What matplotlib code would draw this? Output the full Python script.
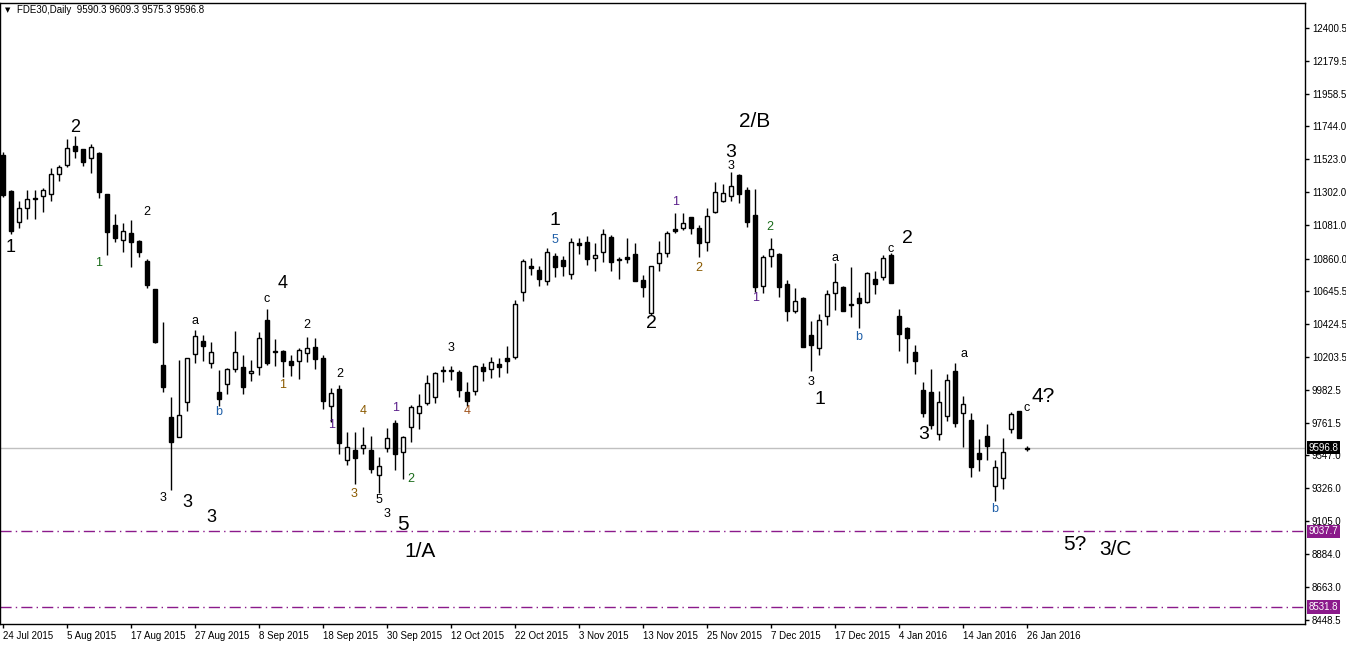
"""FDE30 daily candles with Elliott wave counts, MT4 style."""
import matplotlib
matplotlib.use("Agg")
import matplotlib.pyplot as plt
from matplotlib import transforms

plt.rcParams["font.family"] = ["Liberation Sans", "DejaVu Sans"]

# --- data -------------------------------------------------------------------
date_labels = [
    "24 Jul 2015", "5 Aug 2015", "17 Aug 2015", "27 Aug 2015", "8 Sep 2015",
    "18 Sep 2015", "30 Sep 2015", "12 Oct 2015", "22 Oct 2015", "3 Nov 2015",
    "13 Nov 2015", "25 Nov 2015", "7 Dec 2015", "17 Dec 2015", "4 Jan 2016",
    "14 Jan 2016", "26 Jan 2016",
]
bars_per_label = 8

opens = [
    11552, 11312, 11104, 11198, 11265, 11278, 11292, 11425, 11485, 11612,
    11592, 11532, 11565, 11292, 11084, 10984, 11031, 10978, 10844, 10657,
    10149, 9802, 9668, 9902, 10223, 10310, 10163, 9969, 10022, 10123,
    10136, 10096, 10136, 10450, 10243, 10243, 10176, 10176, 10230, 10270,
    10196, 9876, 9989, 9515, 9582, 9595, 9582, 9415, 9595, 9762,
    9568, 9735, 9829, 9896, 9936, 10116, 10110, 10103, 9969, 9976,
    10136, 10123, 10156, 10196, 10203, 10637, 10811, 10784, 10711, 10878,
    10851, 10757, 10964, 10971, 10864, 10904, 11004, 10857, 10871, 10891,
    10717, 10497, 10831, 10898, 11058, 11065, 11138, 11065, 10971, 11171,
    11245, 11278, 11419, 11318, 11151, 10677, 10878, 10891, 10690, 10510,
    10597, 10350, 10263, 10477, 10630, 10670, 10557, 10597, 10570, 10724,
    10737, 10884, 10477, 10397, 10236, 9982, 9969, 9689, 9809, 10109,
    9829, 9782, 9562, 9675, 9341, 9395, 9722, 9842, 9590.3,
]
highs = [
    11572, 11318, 11245, 11318, 11318, 11332, 11465, 11485, 11659, 11679,
    11592, 11626, 11572, 11292, 11158, 11098, 11118, 10984, 10857, 10657,
    10437, 9936, 10183, 10196, 10383, 10350, 10303, 10116, 10129, 10377,
    10216, 10183, 10370, 10523, 10323, 10250, 10216, 10263, 10336, 10330,
    10216, 9996, 10016, 9702, 9702, 9735, 9675, 9535, 9729, 9782,
    9675, 9882, 9956, 10083, 10103, 10143, 10140, 10116, 10036, 10149,
    10163, 10203, 10196, 10276, 10584, 10857, 10864, 10811, 10931, 10898,
    10878, 10998, 10998, 11011, 10964, 11058, 11018, 10871, 10998, 10964,
    10751, 10811, 10978, 11044, 11165, 11165, 11138, 11085, 11198, 11372,
    11358, 11439, 11425, 11338, 11325, 10884, 10998, 10898, 10717, 10664,
    10604, 10443, 10490, 10650, 10831, 10677, 10804, 10637, 10771, 10777,
    10884, 10898, 10523, 10403, 10283, 10036, 10123, 9976, 10089, 10163,
    9942, 9829, 9655, 9755, 9515, 9662, 9835, 9842, 9609.3,
]
lows = [
    11272, 11024, 11065, 11125, 11125, 11171, 11245, 11379, 11472, 11532,
    11479, 11432, 11265, 10884, 10971, 10904, 10804, 10871, 10664, 10296,
    9969, 9314, 9668, 9842, 10163, 10176, 10129, 9876, 9956, 10103,
    9956, 10043, 10083, 10149, 10143, 10069, 10076, 10056, 10169, 10123,
    9855, 9769, 9555, 9481, 9354, 9555, 9428, 9294, 9568, 9448,
    9388, 9635, 9722, 9882, 9896, 10036, 10050, 9936, 9876, 9949,
    10043, 10063, 10069, 10096, 10189, 10577, 10751, 10677, 10684, 10737,
    10744, 10724, 10891, 10817, 10777, 10837, 10777, 10724, 10831, 10711,
    10604, 10483, 10777, 10871, 11031, 11051, 11024, 10871, 10911, 11165,
    11238, 11245, 11232, 11071, 10637, 10630, 10804, 10604, 10443, 10497,
    10270, 10109, 10216, 10417, 10517, 10510, 10470, 10397, 10564, 10624,
    10717, 10697, 10243, 10163, 10089, 9802, 9722, 9648, 9775, 9735,
    9602, 9401, 9441, 9515, 9241, 9321, 9695, 9662, 9575.3,
]
closes = [
    11285, 11044, 11198, 11258, 11258, 11318, 11425, 11472, 11599, 11579,
    11505, 11606, 11305, 11038, 10998, 11044, 10971, 10904, 10684, 10303,
    10002, 9635, 9815, 10196, 10343, 10276, 10236, 9922, 10123, 10236,
    10002, 10109, 10330, 10163, 10236, 10176, 10149, 10250, 10263, 10189,
    9909, 9962, 9628, 9602, 9528, 9615, 9455, 9475, 9662, 9555,
    9668, 9869, 9876, 10029, 10096, 10109, 10114, 9982, 9909, 10143,
    10109, 10169, 10136, 10176, 10557, 10844, 10797, 10724, 10904, 10804,
    10811, 10971, 10951, 10857, 10884, 11024, 10837, 10851, 10857, 10711,
    10670, 10811, 10898, 11031, 11044, 11098, 11065, 10964, 11145, 11305,
    11298, 11345, 11292, 11105, 10670, 10871, 10924, 10670, 10510, 10577,
    10270, 10283, 10450, 10624, 10704, 10510, 10550, 10564, 10764, 10690,
    10864, 10697, 10356, 10330, 10176, 9829, 9749, 9902, 10049, 9762,
    9889, 9468, 9522, 9608, 9468, 9568, 9822, 9662, 9596.8,
]

price_ticks = [
    12400.5, 12179.5, 11958.5, 11744.0, 11523.0, 11302.0, 11081.0, 10860.0,
    10645.5, 10424.5, 10203.5, 9982.5, 9761.5, 9547.0, 9326.0, 9105.0,
    8884.0, 8663.0, 8448.5,
]
level_lines = [9037.7, 8531.8]
last_price = 9596.8
header = "FDE30,Daily  9590.3 9609.3 9575.3 9596.8"

# wave labels: (bar, price, text, size, colour)
wave_labels = [
    (1, 10931, "1", 13, "black"), (9, 11733, "2", 13, "black"),
    (23, 9228, "3", 13, "black"), (26, 9128, "3", 13, "black"),
    (35, 10691, "4", 13, "black"), (50, 9081, "5", 15, "black"),
    (52.1, 8900, "1/A", 15, "black"), (69, 11112, "1", 14, "black"),
    (81, 10424, "2", 14, "black"), (91, 11566, "3", 14, "black"),
    (94, 11773, "2/B", 15, "black"), (102.1, 9916, "1", 14, "black"),
    (113, 10991, "2", 14, "black"), (115.1, 9682, "3", 14, "black"),
    (130, 9936, "4?", 15, "black"), (134, 8947, "5?", 15, "black"),
    (139, 8914, "3/C", 15, "black"),
    (11.9, 10831, "1", 9, "#1a6b1a"), (18, 11172, "2", 9, "black"),
    (20, 9261, "3", 9, "black"), (24, 10444, "a", 9, "black"),
    (27, 9836, "b", 9, "#1f5fa8"), (33, 10591, "c", 9, "black"),
    (35, 10016, "1", 9, "#8a5a00"), (38, 10417, "2", 9, "black"),
    (42.1, 10090, "2", 9, "black"), (41.1, 9749, "1", 9, "#5a1f8a"),
    (45, 9842, "4", 9, "#8a5a00"), (43.9, 9288, "3", 9, "#8a5a00"),
    (47, 9248, "5", 9, "black"), (48, 9154, "3", 9, "black"),
    (49.1, 9863, "1", 9, "#5a1f8a"), (51, 9388, "2", 9, "#1a6b1a"),
    (56, 10263, "3", 9, "black"), (58, 9842, "4", 9, "#a0521a"),
    (69, 10985, "5", 9, "#1f5fa8"), (84.1, 11239, "1", 9, "#5a1f8a"),
    (87, 10798, "2", 9, "#8a5a00"), (91, 11479, "3", 9, "black"),
    (95.9, 11072, "2", 9, "#1a6b1a"), (94.1, 10597, "1", 9, "#5a1f8a"),
    (104, 10865, "a", 9, "black"), (101, 10036, "3", 9, "black"),
    (106.9, 10337, "b", 9, "#1f5fa8"), (110.9, 10925, "c", 9, "black"),
    (120.1, 10223, "a", 9, "black"), (124, 9188, "b", 9, "#1f5fa8"),
    (128, 9863, "c", 9, "black"),
]

# --- figure -----------------------------------------------------------------
W, H = 1346, 645
fig = plt.figure(figsize=(W / 100, H / 100), dpi=100)
ax = fig.add_axes([0.0, 21 / H, 1305 / W, (624 - 3) / H])

n = len(opens)
for i in range(n):
    o, h, l, c = opens[i], highs[i], lows[i], closes[i]
    ax.vlines(i, l, h, color="black", lw=1, zorder=2)
    face = "white" if c >= o else "black"
    ax.bar(i, abs(c - o), bottom=min(o, c), width=0.6, facecolor=face,
           edgecolor="black", lw=1, zorder=3)

ax.axhline(last_price, color="#c0c0c0", lw=1, zorder=1)
for lvl in level_lines:
    ax.axhline(lvl, color="#8b1a8b", lw=1, ls=(0, (8, 3, 1, 3)), zorder=1)

for x, y, t, s, col in wave_labels:
    ax.text(x, y, t, fontsize=s, color=col, ha="center", va="center",
            zorder=4)

ax.set_xlim(-0.375, 162.75)
ax.set_ylim(8419, 12567)

ax.yaxis.tick_right()
ax.set_yticks(price_ticks)
ax.set_yticklabels([f"{p:.1f}" for p in price_ticks])
ax.set_xticks(range(0, n, bars_per_label))
ax.set_xticklabels(date_labels, ha="left")
ax.tick_params(axis="both", direction="out", length=3, width=1,
               labelsize=7, colors="black", pad=2)
for sp in ax.spines.values():
    sp.set_color("black")
    sp.set_linewidth(1)

trans = transforms.blended_transform_factory(ax.transAxes, ax.transData)
tags = [(last_price, "black")] + [(lvl, "#8b1a8b") for lvl in level_lines]
for val, col in tags:
    ax.text(1.003, val, f"{val:.1f}", transform=trans, fontsize=7,
            color="white", va="center", ha="left", zorder=5,
            bbox=dict(facecolor=col, edgecolor="none", pad=1.2))

fig.text(5 / W, 1 - 10 / H, "\u25bc", fontsize=5, va="center", ha="left",
         family="DejaVu Sans")
fig.text(17 / W, 1 - 10 / H, header, fontsize=7, va="center", ha="left")

fig.savefig("out.png", dpi=100)
